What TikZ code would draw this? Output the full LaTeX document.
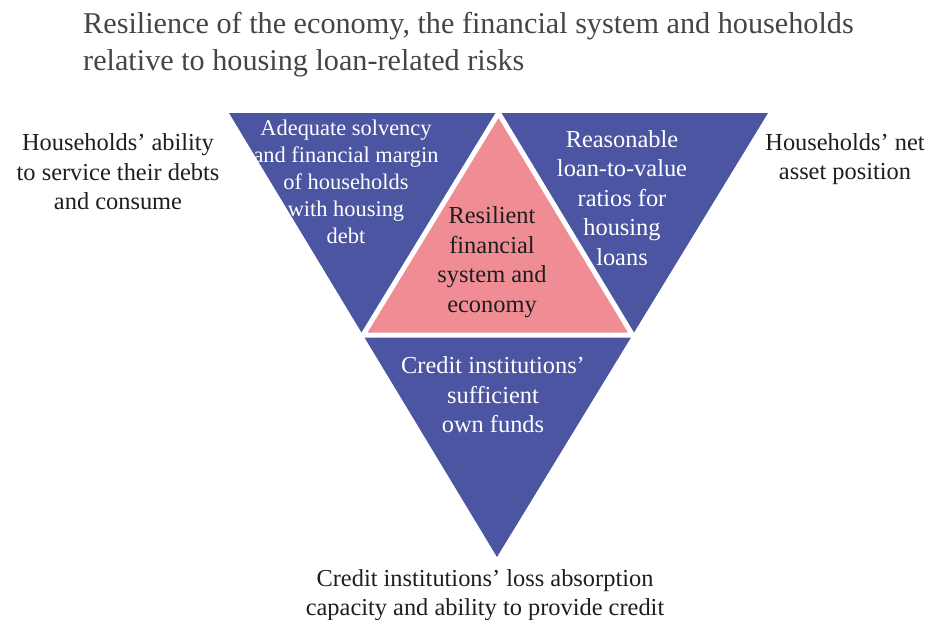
\documentclass[tikz,border=0pt]{standalone}
\usepackage{fontspec}
\setmainfont{Liberation Serif}
\usetikzlibrary{calc}
\definecolor{triblue}{HTML}{4B55A2}
\definecolor{tripink}{HTML}{F08C94}
\definecolor{ttlgray}{HTML}{454545}
\definecolor{txtdark}{HTML}{1E1E1E}
\begin{document}
\begin{tikzpicture}[x=1pt,y=-1pt,
    lbl/.style={align=center,text=txtdark,inner sep=0pt,
      font=\fontsize{24.4}{29.5}\selectfont},
    inlbl/.style={lbl,text=white}]
    \useasboundingbox (0,0) rectangle (928,619);
    % corners of the big triangle
    \coordinate (tl) at (229,113);
    \coordinate (tr) at (768,113);
    \coordinate (bt) at (497,557);
    \coordinate (tm) at ($(tl)!0.5!(tr)$);
    \coordinate (lm) at ($(tl)!0.5!(bt)$);
    \coordinate (rm) at ($(tr)!0.5!(bt)$);
    \fill [triblue] (tl)--(tr)--(bt)--cycle;
    \filldraw [fill=tripink, draw=white, line width=5pt] (tm)--(lm)--(rm)--cycle;
    % title
    \node [anchor=west, text=ttlgray, inner sep=0pt, align=left,
      font=\fontsize{30.2}{37}\selectfont] (title) at (83,45)
      {Resilience of the economy, the financial system and households\\relative to housing loan-related risks};
    % texts in the triangles
    \node [inlbl, font=\fontsize{22.4}{27}\selectfont] (solv) at (346,182)
      {Adequate solvency\\and financial margin\\of households\\with housing\\debt};
    \node [inlbl] (ltv) at (622,198)
      {Reasonable\\loan-to-value\\ratios for\\housing\\loans};
    \node [lbl] (core) at (492,262)
      {Resilient\\financial\\system and\\economy};
    \node [inlbl] (funds) at (493,395)
      {Credit institutions’\\sufficient\\own funds};
    % texts outside
    \node [lbl] (debts) at (118,172)
      {Households’ ability\\to service their debts\\and consume};
    \node [lbl] (asset) at (845,159)
      {Households’ net\\asset position};
    \node [lbl] (loss) at (485,595)
      {Credit institutions’ loss absorption\\capacity and ability to provide credit};
\end{tikzpicture}
\end{document}
